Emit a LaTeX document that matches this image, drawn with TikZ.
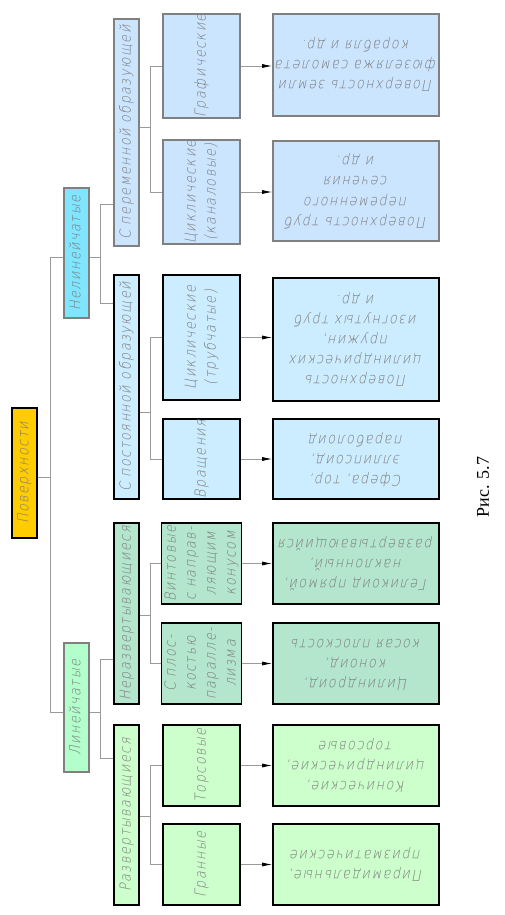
\documentclass[tikz,border=0pt]{standalone}
\usepackage{fontspec}
\usepackage{graphicx}
\usetikzlibrary{arrows.meta}

% drafting-like lettering
\IfFontExistsTF{DejaVu Sans ExtraLight}
  {\newfontfamily\gost[FakeStretch=0.85,FakeSlant=0.2,LetterSpace=10]{DejaVu Sans ExtraLight}}
  {\IfFontExistsTF{DejaVu Sans Light}
    {\newfontfamily\gost[FakeStretch=0.85,FakeSlant=0.2,LetterSpace=10]{DejaVu Sans Light}}
    {\newfontfamily\gost[FakeStretch=0.85,FakeSlant=0.2,LetterSpace=10]{DejaVu Sans}}}
\newfontfamily\capfont{Liberation Serif}

\definecolor{rootfill}{HTML}{FFCC00}
\definecolor{nlfill}{HTML}{80E5FF}
\definecolor{lfill}{HTML}{B3FFCC}
\definecolor{varfill}{HTML}{CCE5FF}
\definecolor{constfill}{HTML}{CCECFF}
\definecolor{ndfill}{HTML}{B3E6CC}
\definecolor{devfill}{HTML}{CCFFCC}
\definecolor{edgegray}{HTML}{808080}
\definecolor{linegray}{HTML}{9A9A9A}
\definecolor{txtgray}{HTML}{7A7A7A}

\newcommand\vlbl[1]{\rotatebox{90}{\begin{tabular}{@{}c@{}}#1\end{tabular}}}
\newcommand\ulbl[1]{\rotatebox{180}{\begin{tabular}{@{}c@{}}#1\end{tabular}}}

\begin{document}
\begin{tikzpicture}[x=1pt,y=-1pt,
  box/.style={line width=1.6pt, inner sep=0pt, text=txtgray, font=\gost\fontsize{15}{20}\selectfont},
  bbox/.style={box, draw=black},
  gbox/.style={box, draw=edgegray},
  conn/.style={draw=linegray, line width=0.8pt},
  arr/.style={conn, -{Latex[length=10pt,width=4pt,color=black]}}]

\useasboundingbox (0,0) rectangle (505,915);

% Root
\node[bbox, fill=rootfill, minimum width=25pt, minimum height=130pt] (root) at (24.5,473) {\vlbl{Поверхности}};

% Level 1
\node[gbox, fill=nlfill, minimum width=25pt, minimum height=130pt] (nonlin) at (76.5,253) {\vlbl{Нелинейчатые}};
\node[gbox, fill=lfill, minimum width=25pt, minimum height=129pt] (lin) at (76.5,707.5) {\vlbl{Линейчатые}};

% Level 2
\node[gbox, fill=varfill, minimum width=25pt, minimum height=227pt] (var) at (126.5,132.5) {\vlbl{С переменной образующей}};
\node[bbox, fill=constfill, minimum width=25pt, minimum height=224pt] (const) at (126.5,387) {\vlbl{С постоянной образующей}};
\node[bbox, fill=ndfill, minimum width=25pt, minimum height=181pt] (nondev) at (126.5,613.5) {\vlbl{Неразвертывающиеся}};
\node[bbox, fill=devfill, minimum width=25pt, minimum height=180pt] (dev) at (126.5,815) {\vlbl{Развертывающиеся}};

% Level 3
\node[gbox, fill=varfill, minimum width=77pt, minimum height=100pt] (graph) at (201.5,66) {\vlbl{Графические}};
\node[gbox, fill=varfill, minimum width=77pt, minimum height=102pt] (chan) at (201.5,192) {\vlbl{Циклические\\(каналовые)}};
\node[bbox, fill=constfill, minimum width=77pt, minimum height=125pt] (tube) at (201.5,337.5) {\vlbl{Циклические\\(трубчатые)}};
\node[bbox, fill=constfill, minimum width=77pt, minimum height=80pt] (rot) at (201.5,459) {\vlbl{Вращения}};
\node[bbox, fill=ndfill, minimum width=77pt, minimum height=81pt] (screw) at (201.5,563.5) {\vlbl{Винтовые\\с направ-\\ляющим\\конусом}};
\node[bbox, fill=ndfill, minimum width=77pt, minimum height=81pt] (plane) at (201.5,663.5) {\vlbl{С плос-\\костью\\паралле-\\лизма}};
\node[bbox, fill=devfill, minimum width=77pt, minimum height=81pt] (tors) at (201.5,765.5) {\vlbl{Торсовые}};
\node[bbox, fill=devfill, minimum width=77pt, minimum height=81pt] (facet) at (201.5,864.5) {\vlbl{Гранные}};

% Level 4 (examples)
\node[gbox, fill=varfill, minimum width=166pt, minimum height=102pt] (ex1) at (356,65) {\ulbl{Поверхность земли\\фюзеляжа самолета\\корабля и др.}};
\node[gbox, fill=varfill, minimum width=166pt, minimum height=100pt] (ex2) at (356,191) {\ulbl{Поверхность труб\\переменного\\сечения\\и др.}};
\node[bbox, fill=constfill, minimum width=166pt, minimum height=123pt] (ex3) at (356,339.5) {\ulbl{Поверхность\\цилиндрических\\пружин,\\изогнутых труб\\и др.}};
\node[bbox, fill=constfill, minimum width=166pt, minimum height=80pt] (ex4) at (356,459) {\ulbl{Сфера, тор,\\эллипсоид,\\параболоид}};
\node[bbox, fill=ndfill, minimum width=166pt, minimum height=81pt] (ex5) at (356,563.5) {\ulbl{Геликоид прямой,\\наклонный,\\развертывающийся}};
\node[bbox, fill=ndfill, minimum width=166pt, minimum height=81pt] (ex6) at (356,663.5) {\ulbl{Цилиндроид,\\коноид,\\косая плоскость}};
\node[bbox, fill=devfill, minimum width=166pt, minimum height=81pt] (ex7) at (356,765.5) {\ulbl{Конические,\\цилиндрические,\\торсовые}};
\node[bbox, fill=devfill, minimum width=166pt, minimum height=81pt] (ex8) at (356,864.5) {\ulbl{Пирамидальные,\\призматические}};

% Trunk
\coordinate (t0) at (50,477);
\coordinate (t1) at (50,257);
\coordinate (t2) at (50,712);
\draw[conn] (root.east |- t0) -- (t0);
\draw[conn] (t1) -- (t2);
\draw[conn] (t1) -- (nonlin.west |- t1);
\draw[conn] (t2) -- (lin.west |- t2);

% Level 1 to level 2
\coordinate (n1) at (100,204);
\coordinate (n2) at (100,303);
\coordinate (l1) at (100,659);
\coordinate (l2) at (100,758);
\draw[conn] (nonlin.east |- t1) -- (n1 |- t1);
\draw[conn] (n1) -- (n2);
\draw[conn] (n1) -- (var.west |- n1);
\draw[conn] (n2) -- (const.west |- n2);
\draw[conn] (lin.east |- t2) -- (l1 |- t2);
\draw[conn] (l1) -- (l2);
\draw[conn] (l1) -- (nondev.west |- l1);
\draw[conn] (l2) -- (dev.west |- l2);

% Level 2 to level 3
\foreach \p/\y/\a/\b in {var/127/graph/chan, const/412/tube/rot, nondev/615/screw/plane, dev/816/tors/facet}{
  \coordinate (j\p) at (150,\y);
  \draw[conn] (\p.east |- j\p) -- (j\p);
  \draw[conn] (j\p |- \a) -- (j\p |- \b);
  \draw[conn] (j\p |- \a) -- (\a.west);
  \draw[conn] (j\p |- \b) -- (\b.west);
}

% Level 3 to examples
\foreach \a/\b in {graph/ex1, chan/ex2, tube/ex3, rot/ex4, screw/ex5, plane/ex6, tors/ex7, facet/ex8}
  \draw[arr] (\a.east) -- (\a.east -| \b.west);

% Caption
\node[rotate=90, font=\capfont\fontsize{18}{20}\selectfont] (cap) at (483,487) {Рис. 5.7};

\end{tikzpicture}
\end{document}
